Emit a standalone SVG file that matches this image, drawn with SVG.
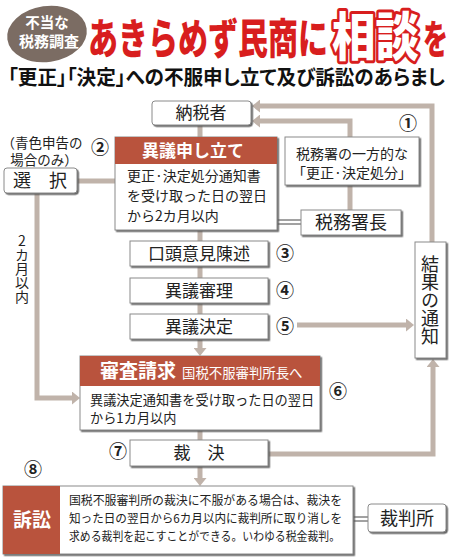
<svg xmlns="http://www.w3.org/2000/svg" width="450" height="559" viewBox="0 0 450 559">
<defs>
<style>
text{font-family:"Noto Sans CJK JP","Noto Sans",sans-serif;fill:#222}
.box{fill:#fff;stroke:#8a8a8a;stroke-width:1;filter:url(#sh)}
.red{fill:#b9533d}
.conn{fill:none;stroke:#c0b3aa;stroke-width:5}
.dbl{stroke:#444;stroke-width:1}
.lbl{font-size:17px;text-anchor:middle}
.num{font-size:18px;text-anchor:middle;font-weight:bold}
.body{font-size:14px}
.wh{fill:#fff;font-weight:bold}
</style>
<filter id="sh" x="-10%" y="-10%" width="130%" height="140%">
<feDropShadow dx="1.5" dy="1.5" stdDeviation="0.6" flood-color="#555" flood-opacity="0.9"/>
</filter>
<marker id="ar" viewBox="0 0 8 13" refX="0" refY="6.5" markerWidth="8" markerHeight="13" markerUnits="userSpaceOnUse" orient="auto">
<path d="M0,0 L8,6.5 L0,13 z" fill="#c0b3aa"/>
</marker>
</defs>
<rect width="450" height="559" fill="#fff"/>

<g id="header">
<ellipse cx="47" cy="34" rx="41" ry="29" transform="rotate(-8 47 34)" fill="#7b6c63" stroke="#fff" stroke-width="2"/>
<text x="47" y="28" font-size="14.5" text-anchor="middle" style="fill:#fff;font-weight:bold">不当な</text>
<text x="49" y="47" font-size="15" text-anchor="middle" style="fill:#fff;font-weight:bold">税務調査</text>
<text x="88" y="54" font-size="42" textLength="240" lengthAdjust="spacingAndGlyphs" style="fill:#d81e1e;font-weight:900">あきらめず民商に</text>
<text x="332" y="56" font-size="52" textLength="87" lengthAdjust="spacingAndGlyphs" stroke="#d81e1e" stroke-width="6" stroke-linejoin="round" paint-order="stroke" style="fill:#fff;font-weight:900">相談</text>
<text x="423" y="54" font-size="40" textLength="25" lengthAdjust="spacingAndGlyphs" style="fill:#d81e1e;font-weight:900">を</text>
<text x="8" y="85" font-size="20" textLength="437" lengthAdjust="spacingAndGlyphs" style="font-weight:bold;fill:#111;font-feature-settings:'palt'">「更正」「決定」への不服申し立て及び訴訟のあらまし</text>
</g>

<g id="connectors">
<path class="conn" d="M200 125 V348" marker-end="url(#ar)"/>
<path class="conn" d="M200 430 V478" marker-end="url(#ar)"/>
<path class="conn" d="M77 181 H115"/>
<path class="conn" d="M37 193 V398 H72" marker-end="url(#ar)"/>
<path class="conn" d="M297 325 H406" marker-end="url(#ar)"/>
<path class="conn" d="M432 242 V106 H260" marker-end="url(#ar)"/>
<path class="conn" d="M350 137 V121 H260" marker-end="url(#ar)"/>
<path class="conn" d="M350 185 V210"/>
<path class="conn" d="M268 454 H433 V367" marker-end="url(#ar)"/>
<line class="dbl" x1="277" y1="220" x2="301" y2="220"/>
<line class="dbl" x1="277" y1="224" x2="301" y2="224"/>
<line class="dbl" x1="353" y1="517" x2="368" y2="517"/>
<line class="dbl" x1="353" y1="521" x2="368" y2="521"/>
</g>

<g id="nozeisha">
<rect class="box" x="152" y="101" width="99" height="24" rx="3"/>
<text class="lbl" x="201" y="119">納税者</text>
</g>

<g id="igi">
<rect class="box" x="115" y="137" width="162" height="93"/>
<rect class="red" x="115" y="137" width="162" height="27"/>
<text class="wh" x="193" y="157" font-size="17" text-anchor="middle">異議申し立て</text>
<text class="body" x="127" y="181">更正·決定処分通知書</text>
<text class="body" x="127" y="201">を受け取った日の翌日</text>
<text class="body" x="127" y="221">から2カ月以内</text>
</g>

<g id="num2"><text class="num" x="100" y="154">②</text></g>

<g id="aoiro">
<text x="42" y="148" font-size="13.5" text-anchor="middle">（青色申告の</text>
<text x="44" y="165" font-size="13.5" text-anchor="middle">場合のみ）</text>
</g>

<g id="sentaku">
<rect class="box" x="4" y="168" width="73" height="25" rx="3"/>
<text x="40" y="187" font-size="18" text-anchor="middle">選　択</text>
</g>

<g id="months2">
<text x="22" y="234" font-size="14" style="writing-mode:vertical-rl;text-orientation:upright">2カ月以内</text>
</g>

<g id="zeimusho">
<rect class="box" x="285" y="137" width="134" height="48"/>
<text x="352" y="159" font-size="14" text-anchor="middle">税務署の一方的な</text>
<text x="352" y="178" font-size="14" text-anchor="middle">「更正·決定処分」</text>
</g>
<g id="num1"><text class="num" x="408" y="130">①</text></g>

<g id="shochou">
<rect class="box" x="301" y="210" width="100" height="25"/>
<text x="351" y="229" font-size="18" text-anchor="middle">税務署長</text>
</g>

<g id="koutou">
<rect class="box" x="130" y="241" width="138" height="25"/>
<text class="lbl" x="199" y="260">口頭意見陳述</text>
</g>
<g id="num3"><text class="num" x="285" y="260">③</text></g>

<g id="shinri">
<rect class="box" x="130" y="278" width="138" height="25"/>
<text class="lbl" x="199" y="297">異議審理</text>
</g>
<g id="num4"><text class="num" x="285" y="297">④</text></g>

<g id="kettei">
<rect class="box" x="130" y="314" width="138" height="25"/>
<text class="lbl" x="199" y="333">異議決定</text>
</g>
<g id="num5"><text class="num" x="285" y="333">⑤</text></g>

<g id="tsuchi">
<rect class="box" x="415" y="242" width="31" height="116"/>
<text x="430" y="255" font-size="18" style="writing-mode:vertical-rl">結果の通知</text>
</g>

<g id="shinsa">
<rect class="box" x="80" y="356" width="240" height="74"/>
<rect class="red" x="80" y="356" width="240" height="30"/>
<text class="wh" x="100" y="378" font-size="19" textLength="76" lengthAdjust="spacingAndGlyphs">審査請求</text>
<text x="182" y="378" font-size="13.4" style="fill:#fff">国税不服審判所長へ</text>
<text x="90" y="405" font-size="13.2">異議決定通知書を受け取った日の翌日</text>
<text x="90" y="423" font-size="13.2">から1カ月以内</text>
</g>
<g id="num6"><text class="num" x="338" y="398">⑥</text></g>

<g id="saiketsu">
<rect class="box" x="130" y="440" width="138" height="26"/>
<text class="lbl" x="199" y="459">裁　決</text>
</g>
<g id="num7"><text class="num" x="118" y="458">⑦</text></g>
<g id="num8"><text class="num" x="33" y="476">⑧</text></g>

<g id="soshou">
<rect class="box" x="3" y="486" width="350" height="68"/>
<rect class="red" x="3" y="486" width="57" height="68"/>
<text class="wh" x="32" y="527" font-size="19" text-anchor="middle">訴訟</text>
<text x="69" y="505" font-size="12.2" textLength="273" lengthAdjust="spacingAndGlyphs">国税不服審判所の裁決に不服がある場合は、裁決を</text>
<text x="69" y="523" font-size="12.2" textLength="273" lengthAdjust="spacingAndGlyphs">知った日の翌日から6カ月以内に裁判所に取り消しを</text>
<text x="69" y="541" font-size="12.2" textLength="271" lengthAdjust="spacingAndGlyphs">求める裁判を起こすことができる。いわゆる税金裁判。</text>
</g>

<g id="saibansho">
<rect class="box" x="368" y="504" width="78" height="28" rx="3"/>
<text x="407" y="525" font-size="18" text-anchor="middle">裁判所</text>
</g>
</svg>
